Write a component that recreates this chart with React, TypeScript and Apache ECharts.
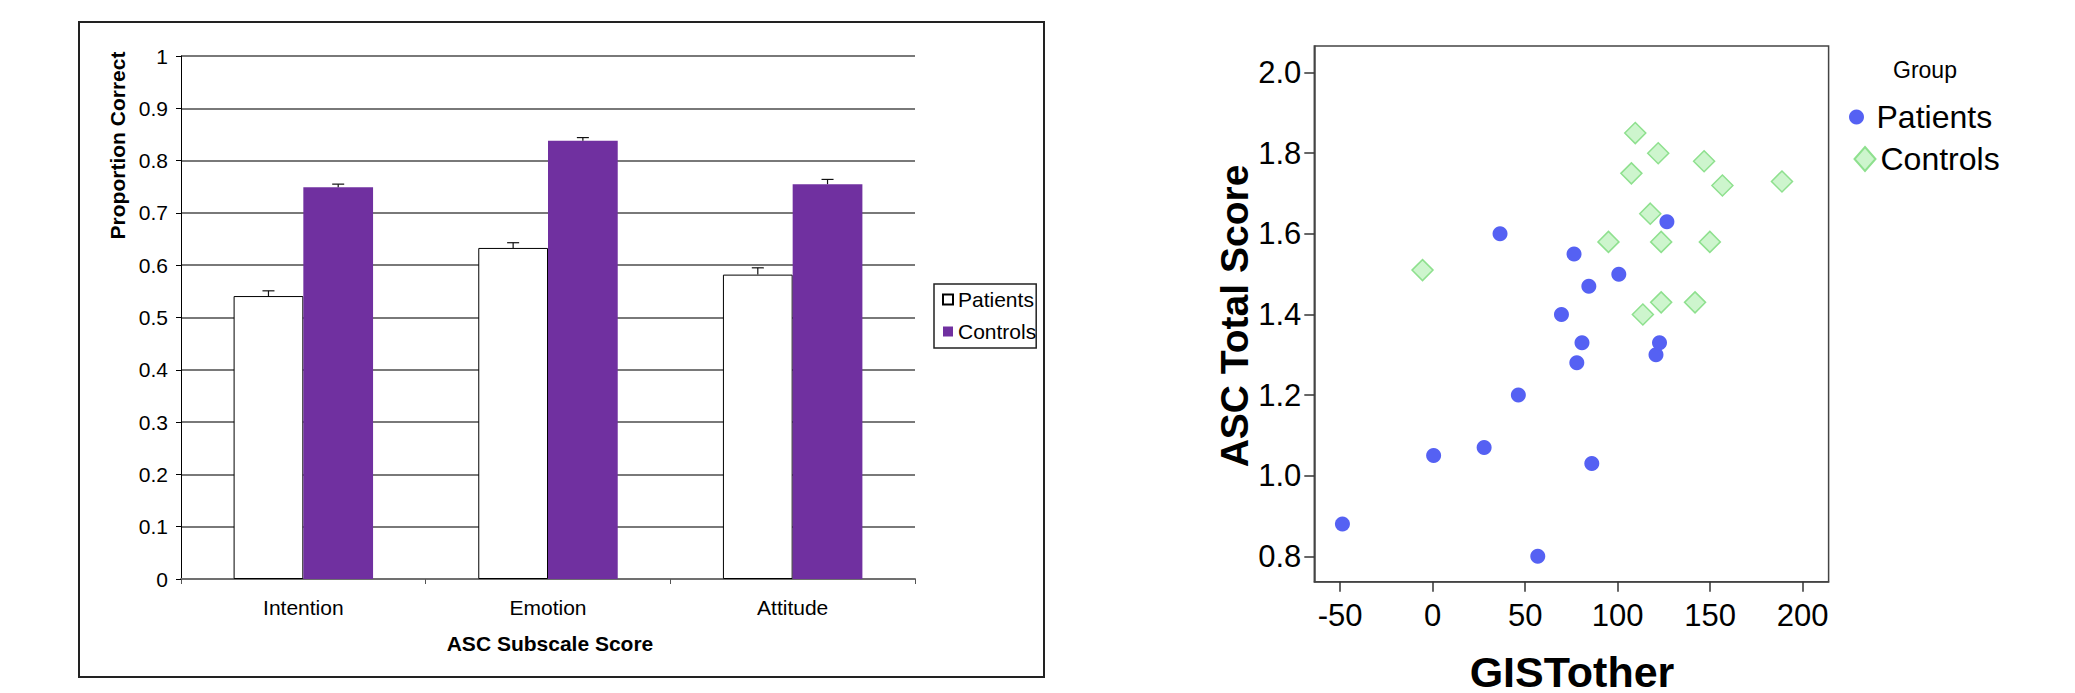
import React, { useEffect, useRef } from 'react';
import * as echarts from 'echarts';

const FONT = '"Liberation Sans", Arial, Helvetica, sans-serif';

// ---- Left chart data (bar chart) ----
const categories = ['Intention', 'Emotion', 'Attitude'];
const patientsMean = [0.541, 0.633, 0.582];
const patientsErr = [0.01, 0.01, 0.013];
const controlsMean = [0.749, 0.838, 0.755];
const controlsErr = [0.006, 0.006, 0.009];
const barYTicks = { min: 0, max: 1, interval: 0.1 };

// ---- Right chart data (scatter) ----
const patientsX = [-48.8, 0.5, 27.8, 46.3, 36.4, 56.8, 69.6, 76.4, 77.9, 80.7, 84.4, 86.0, 100.6, 120.7, 122.6, 126.6];
const patientsY = [0.88, 1.05, 1.07, 1.2, 1.6, 0.8, 1.4, 1.55, 1.28, 1.33, 1.47, 1.03, 1.5, 1.3, 1.33, 1.63];
const controlsX = [-5.5, 95.0, 107.4, 109.5, 113.6, 117.6, 121.9, 123.5, 123.5, 141.8, 146.7, 149.8, 156.6, 188.8];
const controlsY = [1.51, 1.58, 1.75, 1.85, 1.4, 1.65, 1.8, 1.58, 1.43, 1.43, 1.78, 1.58, 1.72, 1.73];
const scatterXTicks = [-50, 0, 50, 100, 150, 200];
const scatterYTicks = [0.8, 1.0, 1.2, 1.4, 1.6, 1.8, 2.0];
const scatterXRange = [-64, 214];
const scatterYRange = [0.737, 2.066];

const PURPLE = '#7030A0';
const BLUE = '#5561F3';
const GREEN_FILL = '#cdf5cd';
const GREEN_LINE = '#8ee08e';

const CAT_GAP = 0.43;
const RIGHT_LEFT = 1050;

function errRender(side: number) {
  return (params: any, api: any) => {
    const idx = api.value(0);
    const p0 = api.coord([idx, api.value(1)]);
    const p1 = api.coord([idx, api.value(2)]);
    const band = api.size([1, 0])[0];
    const off = (band * (1 - CAT_GAP)) / 4;
    const x = p0[0] + side * off;
    return {
      type: 'group',
      children: [
        { type: 'line', shape: { x1: x, y1: p0[1], x2: x, y2: p1[1] }, style: { stroke: '#111', lineWidth: 1.2 } },
        { type: 'line', shape: { x1: x - 6, y1: p1[1], x2: x + 6, y2: p1[1] }, style: { stroke: '#111', lineWidth: 1.2 } },
      ],
    };
  };
}

function BarChart() {
  const ref = useRef<HTMLDivElement>(null);
  useEffect(() => {
    const chart = echarts.init(ref.current!, null, { renderer: 'svg' });
    chart.setOption({
      animation: false,
      textStyle: { fontFamily: FONT },
      grid: { left: 181, top: 56, width: 734, height: 523 },
      xAxis: {
        type: 'category',
        data: categories,
        axisLine: { show: true, lineStyle: { color: '#707070', width: 2 } },
        axisTick: { show: true, length: 5, lineStyle: { color: '#555' } },
        axisLabel: { fontSize: 21, color: '#000', fontFamily: FONT, margin: 18 },
      },
      yAxis: {
        type: 'value',
        min: barYTicks.min,
        max: barYTicks.max,
        interval: barYTicks.interval,
        axisLine: { show: true, lineStyle: { color: '#000', width: 1 } },
        axisTick: { show: true, length: 5, lineStyle: { color: '#000' } },
        axisLabel: { fontSize: 21, color: '#000', fontFamily: FONT, margin: 13 },
        splitLine: { show: true, lineStyle: { color: '#4d4d4d', width: 1.5 } },
      },
      legend: {
        orient: 'vertical',
        left: 934,
        top: 284,
        padding: [5, 0, 6, 8],
        itemGap: 11,
        itemWidth: 10,
        itemHeight: 10,
        icon: 'rect',
        borderColor: '#222',
        borderWidth: 1.5,
        selectedMode: false,
        data: ['Patients', 'Controls'],
        textStyle: { fontSize: 21, color: '#000', fontFamily: FONT },
      },
      series: [
        {
          name: 'Patients',
          type: 'bar',
          data: patientsMean,
          barGap: '0%',
          barCategoryGap: CAT_GAP * 100 + '%',
          itemStyle: { color: '#ffffff', borderColor: '#000', borderWidth: 1 },
        },
        {
          name: 'Controls',
          type: 'bar',
          data: controlsMean,
          barGap: '0%',
          barCategoryGap: CAT_GAP * 100 + '%',
          itemStyle: { color: PURPLE },
        },
        {
          name: 'PatientsErr',
          type: 'custom',
          z: 5,
          data: patientsMean.map((m, i) => [i, m, m + patientsErr[i]]),
          renderItem: errRender(-1),
        },
        {
          name: 'ControlsErr',
          type: 'custom',
          z: 5,
          data: controlsMean.map((m, i) => [i, m, m + controlsErr[i]]),
          renderItem: errRender(1),
        },
      ],
      graphic: [
        {
          type: 'rect',
          shape: { x: 79, y: 22, width: 965, height: 655 },
          style: { fill: 'none', stroke: '#222', lineWidth: 2 },
          silent: true,
        },
        {
          type: 'text',
          x: 117,
          y: 145.5,
          rotation: Math.PI / 2,
          style: {
            text: 'Proportion Correct',
            font: `bold 21px ${FONT}`,
            fill: '#000',
            align: 'center',
            verticalAlign: 'middle',
          },
        },
        {
          type: 'text',
          x: 550,
          y: 643,
          style: {
            text: 'ASC Subscale Score',
            font: `bold 21px ${FONT}`,
            fill: '#000',
            align: 'center',
            verticalAlign: 'middle',
          },
        },
      ],
    });
    return () => chart.dispose();
  }, []);
  return <div ref={ref} style={{ position: 'absolute', left: 0, top: 0, width: 1048, height: 693 }} />;
}

function ScatterChart() {
  const ref = useRef<HTMLDivElement>(null);
  useEffect(() => {
    const chart = echarts.init(ref.current!, null, { renderer: 'svg' });
    const axisFont = { fontSize: 31, color: '#000', fontFamily: FONT };
    const L = RIGHT_LEFT;
    chart.setOption({
      animation: false,
      textStyle: { fontFamily: FONT },
      grid: {
        left: 1314.3 - L,
        top: 46,
        width: 514.3,
        height: 535.7,
        show: true,
        borderColor: '#444',
        borderWidth: 1.5,
        backgroundColor: 'transparent',
      },
      xAxis: {
        type: 'value',
        min: scatterXRange[0],
        max: scatterXRange[1],
        axisLine: { show: true, onZero: false, lineStyle: { color: '#444', width: 1.5 } },
        axisTick: { show: true, length: 10, customValues: scatterXTicks, lineStyle: { color: '#333', width: 1.5 } },
        axisLabel: { ...axisFont, margin: 18, customValues: scatterXTicks },
        splitLine: { show: false },
      },
      yAxis: {
        type: 'value',
        min: scatterYRange[0],
        max: scatterYRange[1],
        axisLine: { show: true, onZero: false, lineStyle: { color: '#444', width: 1.5 } },
        axisTick: { show: true, length: 10, customValues: scatterYTicks, lineStyle: { color: '#333', width: 1.5 } },
        axisLabel: {
          ...axisFont,
          margin: 13,
          customValues: scatterYTicks,
          formatter: (v: number) => v.toFixed(1),
        },
        splitLine: { show: false },
      },
      legend: [
        {
          left: 1849 - L,
          top: 101,
          padding: 0,
          itemWidth: 30,
          itemHeight: 15,
          selectedMode: false,
          data: [{ name: 'Patients', icon: 'circle' }],
          textStyle: { fontSize: 32, color: '#000', fontFamily: FONT },
        },
        {
          left: 1853.5 - L,
          top: 143,
          padding: 0,
          itemWidth: 21,
          itemHeight: 24,
          selectedMode: false,
          data: [{ name: 'Controls', icon: 'diamond' }],
          textStyle: { fontSize: 32, color: '#000', fontFamily: FONT },
        },
      ],
      series: [
        {
          name: 'Patients',
          type: 'scatter',
          symbol: 'circle',
          symbolSize: 15,
          data: patientsX.map((x, i) => [x, patientsY[i]]),
          itemStyle: { color: BLUE, opacity: 1 },
        },
        {
          name: 'Controls',
          type: 'scatter',
          symbol: 'diamond',
          symbolSize: [21, 21],
          data: controlsX.map((x, i) => [x, controlsY[i]]),
          itemStyle: { color: GREEN_FILL, borderColor: GREEN_LINE, borderWidth: 1.5, opacity: 1 },
        },
      ],
      graphic: [
        {
          type: 'text',
          x: 1893 - L,
          y: 69.5,
          style: {
            text: 'Group',
            font: `23px ${FONT}`,
            fill: '#000',
            align: 'left',
            verticalAlign: 'middle',
          },
        },
        {
          type: 'text',
          x: 1234 - L,
          y: 316,
          rotation: Math.PI / 2,
          style: {
            text: 'ASC Total Score',
            font: `bold 39px ${FONT}`,
            fill: '#000',
            align: 'center',
            verticalAlign: 'middle',
          },
        },
        {
          type: 'text',
          x: 1572 - L,
          y: 671.7,
          style: {
            text: 'GISTother',
            font: `bold 43px ${FONT}`,
            fill: '#000',
            align: 'center',
            verticalAlign: 'middle',
          },
        },
      ],
    });
    return () => chart.dispose();
  }, []);
  return <div ref={ref} style={{ position: 'absolute', left: RIGHT_LEFT, top: 0, width: 2075 - RIGHT_LEFT, height: 693 }} />;
}

export default function App() {
  return (
    <div style={{ position: 'fixed', left: 0, top: 0, width: 2075, height: 693, background: '#fff' }}>
      <BarChart />
      <ScatterChart />
    </div>
  );
}
